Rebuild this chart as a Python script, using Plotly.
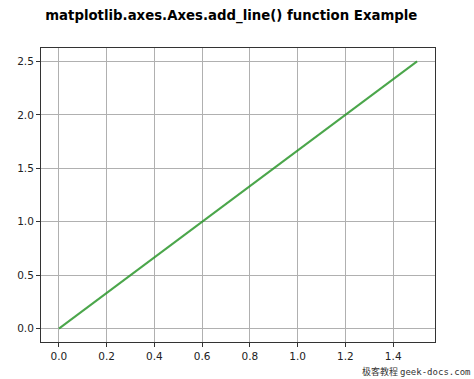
import plotly.graph_objects as go

x_vals = [0.0, 1.5]
y_vals = [0.0, 2.5]
x_ticks = [0.0, 0.2, 0.4, 0.6, 0.8, 1.0, 1.2, 1.4]
y_ticks = [0.0, 0.5, 1.0, 1.5, 2.0, 2.5]
title = "matplotlib.axes.Axes.add_line() function Example"

fig = go.Figure()
fig.add_trace(go.Scatter(x=x_vals, y=y_vals, mode="lines",
                         line=dict(color="rgba(44,150,44,0.85)", width=2),
                         showlegend=False, hoverinfo="skip"))

axis_common = dict(showgrid=True, gridcolor="#b0b0b0", gridwidth=1,
                   showline=True, linecolor="#333333", linewidth=1, mirror=True,
                   ticks="outside", ticklen=4, tickcolor="#333333",
                   zeroline=False, tickfont=dict(family="DejaVu Sans", size=10.5, color="#222"))

fig.update_xaxes(range=[-0.075, 1.575], tickvals=x_ticks,
                 ticktext=[f"{v:.1f}" for v in x_ticks], **axis_common)
fig.update_yaxes(range=[-0.125, 2.625], tickvals=y_ticks,
                 ticktext=[f"{v:.1f}" for v in y_ticks], **axis_common)

fig.update_layout(
    width=474, height=379,
    margin=dict(l=41, r=39, t=48, b=37),
    plot_bgcolor="white", paper_bgcolor="white",
    title=dict(text="<b>" + title + "</b>", x=0.488, xanchor="center", y=0.96, yanchor="middle",
               font=dict(family="DejaVu Sans", size=13.3, color="black")),
    annotations=[dict(text="极客教程 <span style='font-family:DejaVu Sans Mono'>geek-docs.com</span>",
                      xref="paper", yref="paper", x=1.094, y=-0.102, xanchor="right", yanchor="middle",
                      showarrow=False,
                      font=dict(family="Noto Sans CJK SC", size=9, color="#333"))],
)

fig.write_html("out.html")
